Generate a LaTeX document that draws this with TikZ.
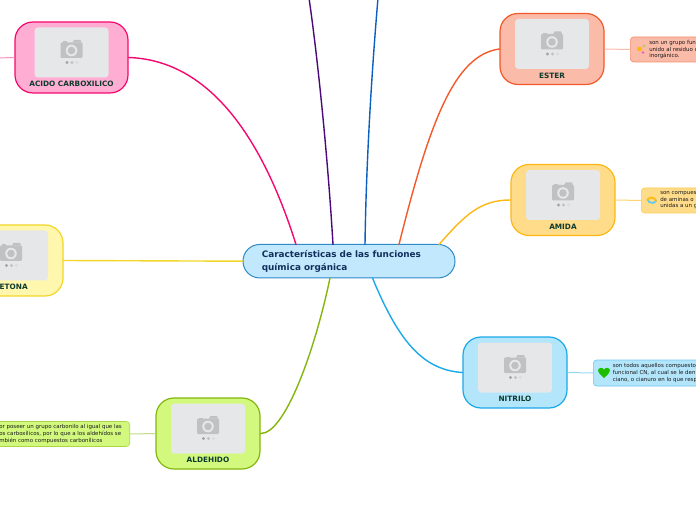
\documentclass[tikz,border=0pt]{standalone}
\usepackage{fontspec}
\setmainfont{DejaVu Sans}
\begin{document}
\begin{tikzpicture}[x=0.75pt,y=-0.75pt,
  cardbox/.style={draw=#1,line width=0.9pt,rounded corners=13.5pt,minimum width=78pt,minimum height=53.25pt,inner sep=0pt},
  photo/.style={fill=photogray,rounded corners=2.5pt,minimum width=55.5pt,minimum height=37.5pt,inner sep=0pt},
  cardlabel/.style={font=\bfseries\fontsize{5.5pt}{6pt}\selectfont,text=labelgreen,inner sep=0pt},
  notebox/.style={draw=#1,line width=0.5pt,rounded corners=2.5pt,inner sep=0pt},
  notetext/.style={font=\fontsize{4.1pt}{4.9pt}\selectfont,text=black!90,align=left,anchor=west,inner sep=0pt},
  branch/.style={line width=1.05pt,line cap=round},
  stub/.style={line width=0.75pt}]
\definecolor{photogray}{HTML}{E6E7E9}
\definecolor{camgray}{HTML}{C0C1C3}
\definecolor{labelgreen}{HTML}{0F3B2E}
\definecolor{centerfill}{HTML}{C1E8FC}
\definecolor{centerline}{HTML}{2E8BC8}
\definecolor{maintext}{HTML}{12305C}
\definecolor{topviolet}{HTML}{4B0A7A}
\definecolor{topblue}{HTML}{0A5FC0}
\definecolor{esterfill}{HTML}{FABBA8}\definecolor{esterline}{HTML}{F4592A}
\definecolor{amidafill}{HTML}{FFDC8A}\definecolor{amidaline}{HTML}{FDB813}
\definecolor{nitfill}{HTML}{B3E5FB}\definecolor{nitline}{HTML}{1CA9E8}
\definecolor{aldfill}{HTML}{D2F97E}\definecolor{aldline}{HTML}{84B60E}
\definecolor{acifill}{HTML}{FFADD2}\definecolor{aciline}{HTML}{F5086E}
\definecolor{cetfill}{HTML}{FFF7AE}\definecolor{cetline}{HTML}{F2D629}
\newcommand{\cam}[2]{%
  \begin{scope}[shift={(#1,#2)}]
    \fill[camgray,rounded corners=0.8pt] (-11,-7.5) rectangle (11,8);
    \fill[camgray] (1,-7.5) -- (2.5,-10) -- (9,-10) -- (10,-7.5) -- cycle;
    \fill[camgray] (-9,-8.5) rectangle (-5,-7);
    \fill[photogray] (0,0.5) circle (5.8);
    \fill[camgray] (0,0.5) circle (3.8);
    \fill[camgray!85!black] (-4.5,12.5) circle (1.6);
    \fill[camgray] (0.5,12.5) circle (1.6);
    \fill[camgray!30!photogray] (5.5,12.5) circle (1.6);
  \end{scope}}
\newcommand{\card}[7]{% name, cx, cy, width, fill, line, label
  \node[cardbox=#6,fill=#5,minimum width=#4*0.75pt] (#1) at (#2,#3) {};
  \node[photo] (#1p) at (#2,#3-5) {};
  \cam{#2}{#3-7.5}
  \node[cardlabel] (#1l) at (#2,#3+26.5) {#7};}
\begin{scope}
\clip (0,0) rectangle (696,520);
\fill[white] (0,0) rectangle (696,520);
\path[use as bounding box] (0,0) rectangle (696,520);

\node[draw=centerline,fill=centerfill,line width=0.75pt,rounded corners=12.5pt,minimum width=159pt,minimum height=25.1pt,inner sep=0pt] (main) at (349,261.2) {};
\node[font=\bfseries\fontsize{6.65pt}{9.6pt}\selectfont,text=maintext,align=left,anchor=west,inner sep=0pt] (mainl) at (261.5,261.3) {Características de las funciones\\química orgánica};

\coordinate (topa) at (309,-2);
\coordinate (topb) at (378,-2);
\coordinate (acileft) at (-2,58);

\card{ester}{552}{49}{104}{esterfill}{esterline}{ESTER}
\card{amida}{563}{200}{104}{amidafill}{amidaline}{AMIDA}
\card{nit}{515}{372.5}{104}{nitfill}{nitline}{NITRILO}
\card{ald}{208}{433.5}{104}{aldfill}{aldline}{ALDEHIDO}
\card{aci}{71.5}{57.5}{113}{acifill}{aciline}{ACIDO CARBOXILICO}
\card{cet}{11}{260.5}{104}{cetfill}{cetline}{CETONA}

\node[notebox=esterline!45!esterfill,fill=esterfill,minimum width=90pt,minimum height=18.75pt,anchor=west] (esternote) at (630,49.5) {};
\node[notebox=amidaline!45!amidafill,fill=amidafill,minimum width=90pt,minimum height=18.75pt,anchor=west] (amidanote) at (641,200.5) {};
\node[notebox=nitline!45!nitfill,fill=nitfill,minimum width=120pt,minimum height=19.5pt,anchor=west] (nitnote) at (593,373) {};
\node[notebox=aldline!50!aldfill,fill=aldfill,minimum width=135pt,minimum height=18.75pt,anchor=east] (aldnote) at (130,434) {};

\node[notetext] at (649,49.5) {son un grupo fun\\unido al residuo o\\inorgánico.};
\node[notetext] at (660,200.5) {son compues\\de aminas o\\unidas a un g};
\node[notetext] at (612.5,373) {son todos aquellos compuesto\\funcional CN, al cual se le den\\ciano, o cianuro en lo que resp};
\node[notetext] at (-1,434) {or poseer un grupo carbonilo al igual que las\\os carboxílicos, por lo que a los aldehídos se\\mbién como compuestos carbonílicos};

\fill[amidaline] (639.5,49) circle (2.4);
\fill[aldline!70!white] (644,46) circle (1.3);
\fill[magenta!65!white] (643,52.5) circle (1.4);
\draw[cyan!65!white,line width=1.3pt] (647.3,199) arc (170:20:4.8);
\draw[amidaline,line width=1.3pt] (656.3,201.5) arc (-10:-160:4.8);
\fill[green!70!black!85!lime] (604,378) .. controls (600,374.5) and (598,372.5) .. (598,370.5) .. controls (598,367.5) and (602.5,367) .. (604,369.5) .. controls (605.5,367) and (610,367.5) .. (610,370.5) .. controls (610,372.5) and (608,374.5) .. (604,378) -- cycle;

\draw[branch,aciline] (aci.east) .. controls (205,60) and (260,130) .. (296,244.5);
\draw[branch,color=cetline] (cet.east) -- (main.west);
\draw[branch,aldline] (ald.east) .. controls (285,434) and (315,350) .. (330,278);
\draw[branch,nitline] (nit.west) .. controls (425,370) and (400,345) .. (372.5,278);
\draw[branch,amidaline] (amida.west) .. controls (480,200) and (465,215) .. (439,244.5);
\draw[branch,esterline] (ester.west) .. controls (455,55) and (430,120) .. (399,244.5);
\draw[branch,topviolet] (topa) .. controls (318,60) and (328,160) .. (333,244.5);
\draw[branch,topblue] (topb) .. controls (371,80) and (366,170) .. (365,244.5);

\draw[stub,esterfill] (ester.east) -- (esternote.west);
\draw[stub,amidaline!60!white] (amida.east) -- (amidanote.west);
\draw[stub,nitline!45!white] (nit.east) -- (nitnote.west);
\draw[stub,aldline!50!white] (ald.west) -- (aldnote.east);
\draw[stub,aciline!45!white] (acileft) -- (aci.west);
\end{scope}
\end{tikzpicture}
\end{document}
